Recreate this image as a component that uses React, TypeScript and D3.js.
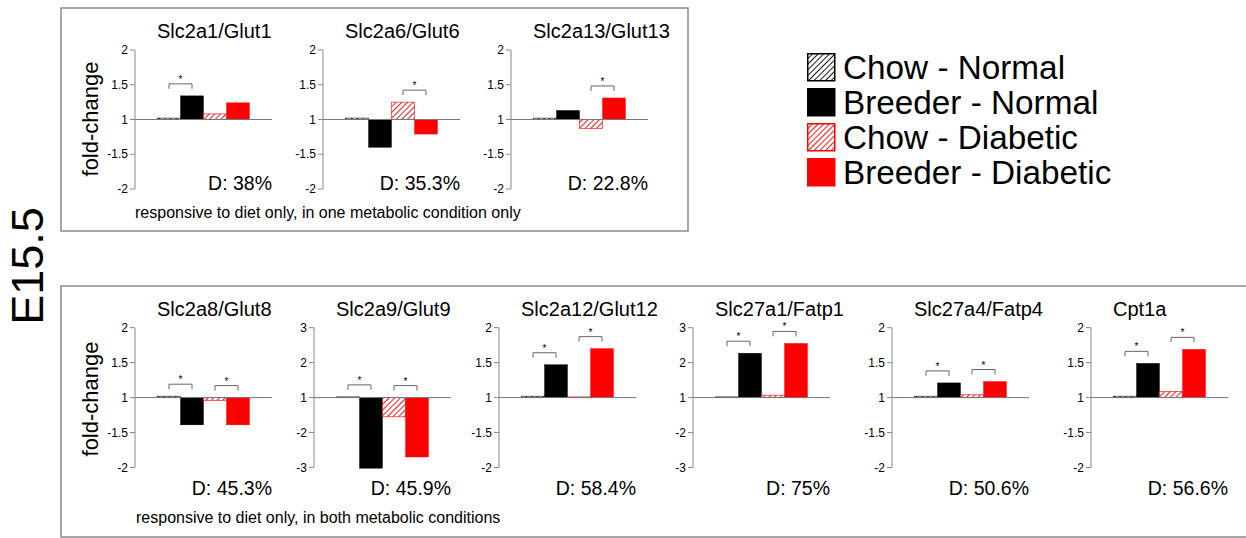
import * as d3 from "d3";

// groups, in bar order
const groups = ["Chow - Normal", "Breeder - Normal", "Chow - Diabetic", "Breeder - Diabetic"];

// upper box: responsive in one metabolic condition
const topGenes = ["Slc2a1/Glut1", "Slc2a6/Glut6", "Slc2a13/Glut13"];
const topValues = [
  [1.02, 1.34, 1.08, 1.24],
  [1.02, -1.4, 1.25, -1.21],
  [1.02, 1.13, -1.13, 1.31],
];
const topD = ["D: 38%", "D: 35.3%", "D: 22.8%"];
const topMax = [2, 2, 2];
const topSig = [[[0, 1]], [[2, 3]], [[2, 3]]];

// lower box: responsive in both metabolic conditions
const bottomGenes = ["Slc2a8/Glut8", "Slc2a9/Glut9", "Slc2a12/Glut12", "Slc27a1/Fatp1", "Slc27a4/Fatp4", "Cpt1a"];
const bottomValues = [
  [1.02, -1.39, -1.04, -1.39],
  [1.02, -3.02, -1.55, -2.7],
  [1.02, 1.47, 1.01, 1.7],
  [1.02, 2.27, 1.07, 2.55],
  [1.02, 1.21, 1.04, 1.23],
  [1.02, 1.49, 1.09, 1.69],
];
const bottomD = ["D: 45.3%", "D: 45.9%", "D: 58.4%", "D: 75%", "D: 50.6%", "D: 56.6%"];
const bottomMax = [2, 3, 2, 3, 2, 2];
const bottomSig = [
  [[0, 1], [2, 3]],
  [[0, 1], [2, 3]],
  [[0, 1], [2, 3]],
  [[0, 1], [2, 3]],
  [[0, 1], [2, 3]],
  [[0, 1], [2, 3]],
];

const ticks2 = [2, 1.5, 1, -1.5, -2];
const ticks3 = [3, 2, 1, -2, -3];

const FONT = "'Liberation Sans', Arial, Helvetica, sans-serif";

// fold-change axis skips the gap between -1 and 1
const fold = (v: number) => (v >= 1 ? v - 1 : v <= -1 ? v + 1 : 0);

const fills = ["url(#hatchBlack)", "#000", "url(#hatchRed)", "#ff0000"];
const strokes = ["#000", "#000", "#ff0000", "#ff0000"];

type PanelProps = {
  gene: string;
  values: number[];
  dLabel: string;
  max: number;
  sig: number[][];
  ax: number;
  yTop: number;
  yBot: number;
  titleY: number;
  dY: number;
};

function Panel({ gene, values, dLabel, max, sig, ax, yTop, yBot, titleY, dY }: PanelProps) {
  const x = d3.scaleBand().domain(groups).range([ax + 22.5, ax + 114.5]);
  const y = d3.scaleLinear().domain([-(max - 1), max - 1]).range([yBot, yTop]);
  const ticks = max === 3 ? ticks3 : ticks2;
  const y0 = y(0);

  return (
    <g>
      <text x={ax + 22} y={titleY} fontSize={20} fontFamily={FONT}>
        {gene}
      </text>
      <line x1={ax} x2={ax} y1={yTop} y2={yBot} stroke="#888" strokeWidth={1} />
      {ticks.map((t) => (
        <g key={t}>
          <line x1={ax - 5} x2={ax} y1={y(fold(t))} y2={y(fold(t))} stroke="#888" />
          <text
            x={ax - 7}
            y={y(fold(t))}
            dy="0.35em"
            textAnchor="end"
            fontSize={12}
            fontFamily={FONT}
          >
            {t}
          </text>
        </g>
      ))}
      {values.map((v, i) => {
        const yv = y(fold(v));
        return (
          <rect
            key={i}
            x={x(groups[i])!}
            width={x.bandwidth()}
            y={Math.min(yv, y0)}
            height={Math.abs(yv - y0)}
            fill={fills[i]}
            stroke={strokes[i]}
            strokeWidth={i % 2 === 0 ? 0.6 : 0.4}
          />
        );
      })}
      <line x1={ax} x2={ax + 137} y1={y0} y2={y0} stroke="#777" strokeWidth={1} />
      {sig.map(([a, b], k) => {
        const top = Math.min(y0, y(fold(values[a])), y(fold(values[b])));
        const by = top - 12;
        const xa = x(groups[a])! + x.bandwidth() / 2;
        const xb = x(groups[b])! + x.bandwidth() / 2;
        return (
          <g key={k}>
            <path
              d={`M${xa},${by + 5}V${by}H${xb}V${by + 5}`}
              fill="none"
              stroke="#666"
              strokeWidth={1}
            />
            <text x={(xa + xb) / 2} y={by - 1} textAnchor="middle" fontSize={10} fontFamily={FONT}>
              *
            </text>
          </g>
        );
      })}
      <text x={ax + 137} y={dY} textAnchor="end" fontSize={19.5} fontFamily={FONT}>
        {dLabel}
      </text>
    </g>
  );
}

const topAxisX = [135, 323, 511];
const bottomAxisX = [135, 314, 499, 693, 892, 1091];

export default function App() {
  return (
    <svg
      width={1246}
      height={538}
      style={{ position: "absolute", left: 0, top: 0, background: "#fff" }}
    >
      <defs>
        <pattern id="hatchBlack" patternUnits="userSpaceOnUse" width={4} height={4} patternTransform="rotate(45)">
          <rect width={4} height={4} fill="#fff" />
          <line x1={0} y1={0} x2={0} y2={4} stroke="#000" strokeWidth={1.8} />
        </pattern>
        <pattern id="hatchRed" patternUnits="userSpaceOnUse" width={4} height={4} patternTransform="rotate(45)">
          <rect width={4} height={4} fill="#fff" />
          <line x1={0} y1={0} x2={0} y2={4} stroke="#ff0000" strokeWidth={1.8} />
        </pattern>
      </defs>

      <text
        transform="translate(27,266) rotate(-90)"
        textAnchor="middle"
        dominantBaseline="central"
        fontSize={45}
        fontFamily={FONT}
      >
        E15.5
      </text>

      {/* upper box */}
      <rect x={61} y={8} width={627} height={223} fill="none" stroke="#8a8a8a" strokeWidth={1.5} />
      <text
        transform="translate(90,119) rotate(-90)"
        textAnchor="middle"
        dominantBaseline="central"
        fontSize={22}
        fontFamily={FONT}
      >
        fold-change
      </text>
      {topGenes.map((g, i) => (
        <Panel
          key={g}
          gene={g}
          values={topValues[i]}
          dLabel={topD[i]}
          max={topMax[i]}
          sig={topSig[i]}
          ax={topAxisX[i]}
          yTop={50}
          yBot={189}
          titleY={38}
          dY={190}
        />
      ))}
      <text x={135} y={218} fontSize={16} fontFamily={FONT}>
        responsive to diet only, in one metabolic condition only
      </text>

      {/* lower box */}
      <rect x={61} y={286} width={1200} height={251} fill="none" stroke="#8a8a8a" strokeWidth={1.5} />
      <text
        transform="translate(90,399) rotate(-90)"
        textAnchor="middle"
        dominantBaseline="central"
        fontSize={22}
        fontFamily={FONT}
      >
        fold-change
      </text>
      {bottomGenes.map((g, i) => (
        <Panel
          key={g}
          gene={g}
          values={bottomValues[i]}
          dLabel={bottomD[i]}
          max={bottomMax[i]}
          sig={bottomSig[i]}
          ax={bottomAxisX[i]}
          yTop={327.7}
          yBot={467.5}
          titleY={315.5}
          dY={495}
        />
      ))}
      <text x={136} y={523} fontSize={16} fontFamily={FONT}>
        responsive to diet only, in both metabolic conditions
      </text>

      {/* legend */}
      {groups.map((g, i) => (
        <g key={g} transform={`translate(807,${53 + i * 35})`}>
          <rect
            x={0.75}
            y={0.75}
            width={27}
            height={27}
            fill={fills[i]}
            stroke={strokes[i]}
            strokeWidth={1.5}
          />
          <text x={36} y={25.5} fontSize={33.3} fontFamily={FONT}>
            {g}
          </text>
        </g>
      ))}
    </svg>
  );
}
